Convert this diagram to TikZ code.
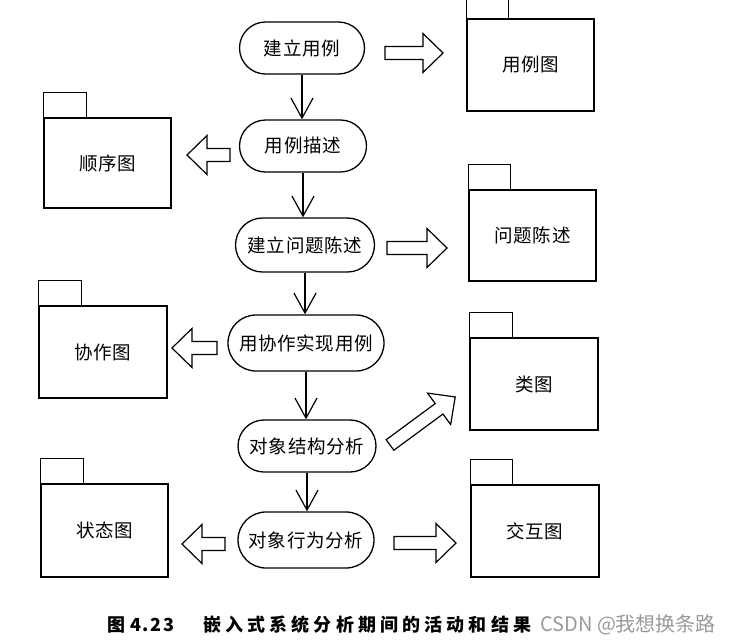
\documentclass[tikz,border=0pt]{standalone}
\usepackage{fontspec}
\setmainfont{Noto Sans CJK SC}
\newfontfamily\lblfont[LetterSpace=4]{Noto Sans CJK SC}
\newfontfamily\capfont[LetterSpace=23]{Noto Sans CJK SC}
\newfontfamily\numfont[LetterSpace=8]{Noto Sans CJK SC}
\newfontfamily\wmfont{Noto Sans CJK SC}
\usetikzlibrary{shapes.misc, arrows.meta}
\newcommand\blockarr[3]{\draw[blk, shift={(#1)}, rotate=#2]
  (0pt,-6.5pt) -- (#3pt-20pt,-6.5pt) -- (#3pt-20pt,-19.5pt) -- (#3pt,0pt)
  -- (#3pt-20pt,19.5pt) -- (#3pt-20pt,6.5pt) -- (0pt,6.5pt) -- cycle;}
\begin{document}
\begin{tikzpicture}[x=1pt,y=-1pt,
  act/.style={rounded rectangle, draw, line width=1.3pt, inner sep=0pt,
    font=\lblfont\fontsize{18.5}{22}\selectfont},
  pkg/.style={draw, line width=1.4pt, inner sep=0pt,
    font=\lblfont\fontsize{18.5}{22}\selectfont},
  tab/.style={draw, line width=1.4pt},
  flow/.style={line width=1.2pt, -{Straight Barb[length=20pt,width=22pt,line width=1.2pt]}},
  blk/.style={draw, line width=1.2pt, line join=miter}]
\useasboundingbox (0,0) rectangle (731,643);

% activities
\node[act, minimum width=125pt, minimum height=52pt] (a1) at (302,48) {建立用例};
\node[act, minimum width=127pt, minimum height=52pt] (a2) at (303,146) {用例描述};
\node[act, minimum width=139pt, minimum height=54pt] (a3) at (305,245) {建立问题陈述};
\node[act, minimum width=156pt, minimum height=56pt] (a4) at (306,343) {用协作实现用例};
\node[act, minimum width=138pt, minimum height=52pt] (a5) at (307,446) {对象结构分析};
\node[act, minimum width=136pt, minimum height=56pt] (a6) at (306,540) {对象行为分析};

\draw[flow] (a1.south) -- (a1.south |- a2.north);
\draw[flow] (a2.south) -- (a2.south |- a3.north);
\draw[flow] (a3.south) -- (a3.south |- a4.north);
\draw[flow] (a4.south) -- (a4.south |- a5.north);
\draw[flow] (a5.south) -- (a5.south |- a6.north);

% packages
\node[pkg, minimum width=127pt, minimum height=92pt] (p1) at (530.5,65) {用例图};
\draw[tab] (p1.north west) -- +(0pt,19pt) (p1.north west) ++(42pt,0pt) -- +(0pt,19pt);
\node[pkg, minimum width=127pt, minimum height=90pt] (p2) at (107.5,163) {顺序图};
\draw[tab] (p2.north west) rectangle +(43pt,25pt);
\node[pkg, minimum width=127pt, minimum height=91pt] (p3) at (532.5,235.5) {问题陈述};
\draw[tab] (p3.north west) rectangle +(42pt,25pt);
\node[pkg, minimum width=128pt, minimum height=92pt] (p4) at (103,352) {协作图};
\draw[tab] (p4.north west) rectangle +(43pt,25pt);
\node[pkg, minimum width=128pt, minimum height=92pt] (p5) at (534,384) {类图};
\draw[tab] (p5.north west) rectangle +(43pt,25pt);
\node[pkg, minimum width=127pt, minimum height=93pt] (p6) at (104.5,530.5) {状态图};
\draw[tab] (p6.north west) rectangle +(43pt,25pt);
\node[pkg, minimum width=128pt, minimum height=92pt] (p7) at (535,531) {交互图};
\draw[tab] (p7.north west) rectangle +(42pt,25pt);

% block arrows
\blockarr{385,53}{0}{58}
\blockarr{230,155}{180}{43}
\blockarr{387,248}{0}{60}
\blockarr{217,348}{180}{45}
\blockarr{390,445}{36.4}{81}
\blockarr{225,544}{180}{43}
\blockarr{394,543}{0}{62}

% caption
\node[anchor=west, inner sep=0pt, font=\capfont\bfseries\fontsize{18}{20}\selectfont] (cap1) at (107,625) {图};
\node[anchor=west, inner sep=0pt, font=\numfont\bfseries\fontsize{18}{20}\selectfont] (cap0) at (130,625) {4.\hspace{2pt}23};
\node[anchor=west, inner sep=0pt, font=\capfont\bfseries\fontsize{18}{20}\selectfont] (cap2) at (203,625) {嵌入式系统分析期间的活动和结果};
\node[anchor=west, inner sep=0pt, text=black!40, font=\wmfont\fontsize{20}{22}\selectfont] (wm) at (540,625) {CSDN @我想换条路};
\end{tikzpicture}
\end{document}
